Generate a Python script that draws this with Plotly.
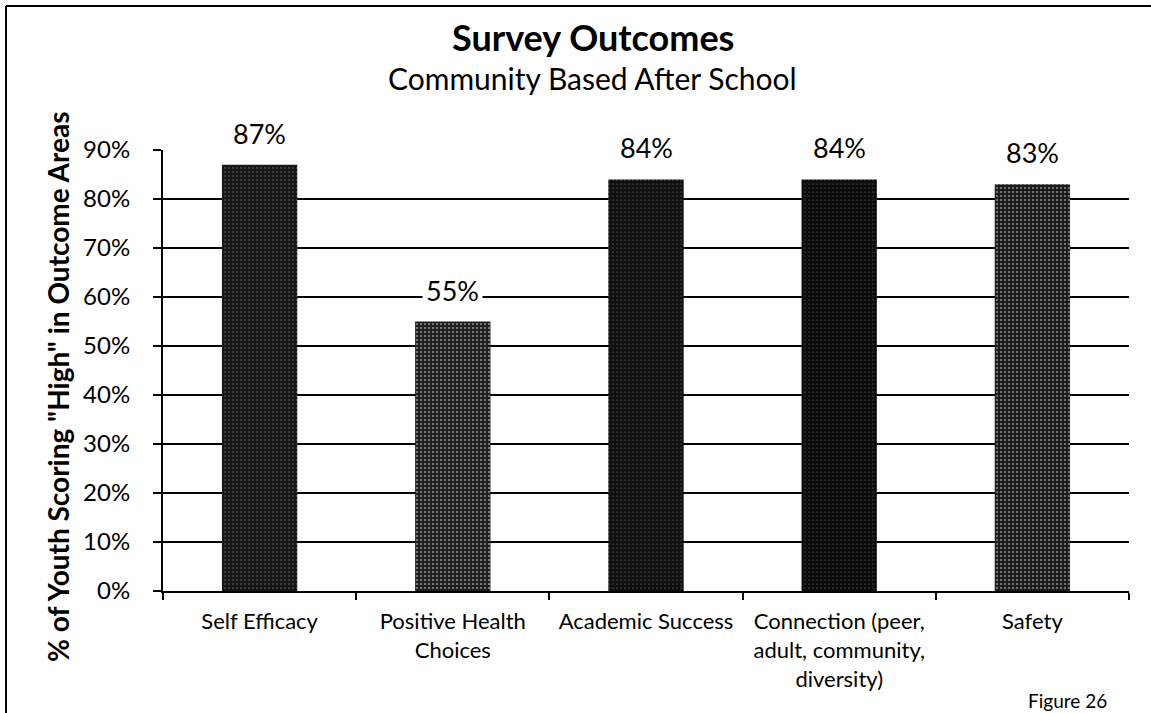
import plotly.graph_objects as go

categories = [
    "Self Efficacy",
    "Positive Health<br>Choices",
    "Academic Success",
    "Connection (peer,<br>adult, community,<br>diversity)",
    "Safety",
]
values = [0.87, 0.55, 0.84, 0.84, 0.83]
labels = ["87%", "55%", "84%", "84%", "83%"]
bar_colors = ["#161616", "#1e1e1e", "#101010", "#0c0c0c", "#1c1c1c"]
speckle = [0.08, 0.22, 0.06, 0.06, 0.2]

y_ticks = [i / 10 for i in range(10)]
y_ticktext = [f"{i * 10}%" for i in range(10)]

FONT = "Lato, 'Open Sans', sans-serif"

# plot area in pixels: x 163..1129, y 150..591
W, H = 1151, 713
L, R, T, B = 163, 1129, 150, 591


def px(x):
    return (x - L) / (R - L)


def py(y):
    return (B - y) / (B - T)


fig = go.Figure()
fig.add_trace(
    go.Bar(
        x=categories,
        y=values,
        marker={
            "color": bar_colors,
            "line": {"width": 0},
            "pattern": {
                "shape": ".",
                "bgcolor": bar_colors,
                "fgcolor": "#9a9a9a",
                "size": 4,
                "solidity": speckle,
            },
        },
        width=0.39,
        hoverinfo="skip",
    )
)

annotations = []
for cat, val, lab in zip(categories, values, labels):
    annotations.append(
        dict(
            x=cat, y=val, xref="x", yref="y", text=lab, showarrow=False,
            yanchor="bottom", yshift=11, bgcolor="white", borderpad=3,
            font={"size": 27, "color": "black", "family": FONT},
        )
    )

annotations += [
    dict(x=px(593), y=py(37), xref="paper", yref="paper", text="<b>Survey Outcomes</b>",
         showarrow=False, xanchor="center", yanchor="middle",
         font={"size": 36, "color": "black", "family": FONT}),
    dict(x=px(592), y=py(78), xref="paper", yref="paper", text="Community Based After School",
         showarrow=False, xanchor="center", yanchor="middle",
         font={"size": 30, "color": "black", "family": FONT}),
    dict(x=px(58), y=py(387), xref="paper", yref="paper",
         text='<b>% of Youth Scoring "High" in Outcome Areas</b>',
         showarrow=False, textangle=-90, xanchor="center", yanchor="middle",
         font={"size": 28, "color": "black", "family": FONT}),
    dict(x=px(1067), y=py(700), xref="paper", yref="paper", text="Figure 26",
         showarrow=False, xanchor="center", yanchor="middle",
         font={"size": 19, "color": "black", "family": FONT}),
]

fig.update_layout(
    width=W,
    height=H,
    margin={"l": L, "r": W - R, "t": T, "b": H - B},
    paper_bgcolor="white",
    plot_bgcolor="white",
    showlegend=False,
    bargap=0.61,
    annotations=annotations,
    font={"family": FONT, "color": "black"},
    shapes=[
        dict(type="line", xref="paper", yref="paper", x0=px(6), x1=px(6), y0=py(6), y1=py(760),
             line={"color": "black", "width": 2}),
        dict(type="line", xref="paper", yref="paper", x0=px(6), x1=px(1151), y0=py(6), y1=py(6),
             line={"color": "black", "width": 2}),
    ],
)
fig.update_xaxes(
    type="category",
    showline=True, linecolor="black", linewidth=2,
    ticks="outside", tickson="boundaries", ticklen=7, tickcolor="black", tickwidth=2,
    tickfont={"size": 22, "color": "black", "family": FONT},
    ticklabelstandoff=10,
    showgrid=False,
)
fig.update_yaxes(
    range=[0, 0.9],
    tickvals=y_ticks,
    ticktext=y_ticktext,
    showline=True, linecolor="black", linewidth=2,
    ticks="outside", ticklen=8, tickcolor="black", tickwidth=2,
    tickfont={"size": 24, "color": "black", "family": FONT},
    ticklabelstandoff=18,
    showgrid=True, gridcolor="black", gridwidth=2,
    zeroline=False,
)

# drop the page's default 8px body margin so the figure sits at the window origin
fig.write_html(
    "out.html",
    config={"displayModeBar": False},
    post_script="document.body.style.margin = '0';",
)
